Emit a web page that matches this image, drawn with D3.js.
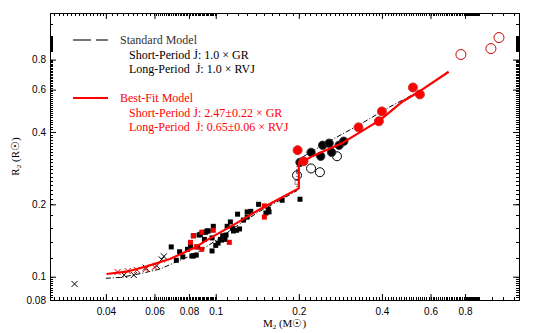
<!DOCTYPE html>
<html>
<head>
<meta charset="utf-8">
<title>Donor mass-radius relation</title>
<script src="https://cdn.jsdelivr.net/npm/d3@7/dist/d3.min.js"></script>
<style>
  body { margin: 0; background: #fff; }
  .tick-label { font-family: "Liberation Sans", Arial, sans-serif; font-size: 10px; fill: #000; }
  .legend { font-family: "Liberation Serif", "DejaVu Serif", serif; font-size: 12px; }
  .axis-title { font-family: "Liberation Serif", "DejaVu Serif", serif; font-size: 11px; }
</style>
</head>
<body>
<script>
// data: [M2 (Msun), R2 (Rsun)]
var blackSquares = [[0.069,0.133],[0.074,0.127],[0.072,0.117],[0.076,0.121],[0.081,0.134],[0.083,0.148],
  [0.087,0.149],[0.090,0.153],[0.092,0.153],[0.094,0.155],[0.083,0.122],[0.085,0.123],[0.086,0.133],
  [0.097,0.128],[0.102,0.138],[0.105,0.142],[0.106,0.148],[0.110,0.162],[0.113,0.169],[0.115,0.159],
  [0.119,0.156],[0.122,0.158],[0.126,0.172],[0.120,0.182],[0.130,0.186],[0.134,0.187],[0.143,0.200],
  [0.152,0.184],[0.155,0.191],[0.091,0.143],[0.097,0.145],[0.104,0.143],[0.108,0.143],[0.098,0.162],
  [0.093,0.155],[0.088,0.150],[0.082,0.122],[0.156,0.186],[0.130,0.177],[0.174,0.208],[0.202,0.210],
  [0.116,0.155],[0.109,0.149],[0.100,0.135],[0.079,0.130]];
var redSquares = [[0.083,0.148],[0.098,0.156],[0.112,0.139],[0.150,0.177],[0.150,0.197],[0.081,0.139],
  [0.089,0.153],[0.085,0.133],[0.089,0.130]];
var blackCrosses = [[0.0308,0.0933],[0.0466,0.1016],[0.0505,0.1016],[0.0558,0.109],[0.0611,0.111],
  [0.0637,0.118],[0.0649,0.1215]];
var redCrosses = [[0.0441,0.1046],[0.0480,0.1056],[0.0518,0.1066],[0.0558,0.1076],[0.0601,0.1097]];
var blackDots = [[0.202,0.299],[0.2215,0.329],[0.244,0.352],[0.240,0.317],[0.263,0.329],[0.2575,0.359],
  [0.280,0.352],[0.291,0.366]];
var redDots = [[0.198,0.336],[0.208,0.302],[0.329,0.418],[0.40,0.487],[0.39,0.443],[0.518,0.6125],[0.549,0.573]];
var openBlackCircles = [[0.275,0.317],[0.2215,0.282],[0.2385,0.272],[0.197,0.264]];
var openRedCircles = [[0.773,0.840],[0.993,0.889],[1.062,0.988]];
var openSquares = [[0.197,0.247]];

// model tracks
var standardModel = [[0.04,0.0985],[0.0456,0.0994],[0.0546,0.1036],[0.0628,0.1076],[0.0722,0.1154],
  [0.0806,0.1219],[0.0876,0.1278],[0.0993,0.1406],[0.119,0.1623],[0.1446,0.1874],[0.1708,0.208],
  [0.197,0.228],[0.197,0.305],[0.2018,0.310],[0.2522,0.361],[0.3329,0.430],[0.4277,0.509],[0.536,0.584]];
var bestFitModel = [[0.0402,0.1026],[0.0475,0.1049],[0.0562,0.1104],[0.0682,0.1184],[0.0829,0.1312],
  [0.0979,0.1471],[0.119,0.167],[0.1446,0.1909],[0.1708,0.2115],[0.2,0.233],[0.2,0.299],[0.208,0.302],
  [0.2249,0.318],[0.2889,0.361],[0.3934,0.448],[0.477,0.537],[0.549,0.591],[0.698,0.712]];

// tick labels
var xTickValues = [0.04, 0.06, 0.08, 0.1, 0.2, 0.4, 0.6, 0.8];
var yTickValues = [0.08, 0.1, 0.2, 0.4, 0.6, 0.8];

var margin = {top: 13, right: 14, bottom: 33, left: 50};
var width = 533 - margin.left - margin.right;
var height = 333 - margin.top - margin.bottom;

var x = d3.scaleLog().domain([0.0251, 1.255]).range([0, width]);
var y = d3.scaleLog().domain([0.08, 1.25]).range([height, 0]);

var svg = d3.select("body").append("svg")
    .attr("width", 533)
    .attr("height", 333);
svg.append("rect").attr("width", 533).attr("height", 333).attr("fill", "#fff");

var g = svg.append("g")
    .attr("transform", "translate(" + margin.left + "," + margin.top + ")");

// minor tick positions in the IDL style (dense in some spans)
function steps(a, b, s) {
  var out = [];
  for (var v = a; v <= b + 1e-9; v += s) out.push(+v.toFixed(4));
  return out;
}
var xMinor = [].concat(steps(0.026, 0.04, 0.001), steps(0.042, 0.06, 0.002), steps(0.061, 0.1, 0.001),
  steps(0.11, 0.2, 0.01), steps(0.21, 0.4, 0.01), steps(0.41, 0.8, 0.01), steps(0.805, 0.9, 0.005), [1.0, 1.1, 1.2]);
var yMinor = [].concat(steps(0.082, 0.1, 0.002), steps(0.12, 0.2, 0.02), steps(0.21, 0.4, 0.01),
  steps(0.41, 0.8, 0.01), steps(0.87, 1.0, 0.005), [1.12]);

// axes: bottom and left with labels, top and right mirrored
var xAxisBottom = d3.axisBottom(x).tickValues(xTickValues).tickSize(-6).tickFormat(d3.format("~g"));
var xAxisTop = d3.axisTop(x).tickValues(xTickValues).tickSize(-6).tickFormat("");
var yAxisLeft = d3.axisLeft(y).tickValues(yTickValues).tickSize(-6).tickFormat(d3.format("~g"));
var yAxisRight = d3.axisRight(y).tickValues(yTickValues).tickSize(-6).tickFormat("");

function styleAxis(sel) {
  sel.select(".domain").attr("stroke", "#000");
  sel.selectAll(".tick line").attr("stroke", "#000");
  sel.selectAll(".tick text").attr("class", "tick-label").attr("font-family", null).attr("font-size", null);
}

g.append("g").attr("transform", "translate(0," + height + ")").call(xAxisBottom)
  .call(styleAxis).call(function(s) { s.selectAll(".tick text").attr("y", 8); });
g.append("g").call(xAxisTop).call(styleAxis);
g.append("g").call(yAxisLeft).call(styleAxis)
  .call(function(s) { s.selectAll(".tick text").attr("x", -4); });
g.append("g").attr("transform", "translate(" + width + ",0)").call(yAxisRight).call(styleAxis);

var minor = g.append("g").attr("stroke", "#000").attr("stroke-width", 1);
minor.selectAll(".xb").data(xMinor).enter().append("line")
  .attr("x1", function(d) { return Math.round(x(d)) + 0.5; })
  .attr("x2", function(d) { return Math.round(x(d)) + 0.5; })
  .attr("y1", height).attr("y2", height - 3);
minor.selectAll(".xt").data(xMinor).enter().append("line")
  .attr("x1", function(d) { return Math.round(x(d)) + 0.5; })
  .attr("x2", function(d) { return Math.round(x(d)) + 0.5; })
  .attr("y1", 0).attr("y2", 3);
minor.selectAll(".yl").data(yMinor).enter().append("line")
  .attr("y1", function(d) { return Math.round(y(d)) + 0.5; })
  .attr("y2", function(d) { return Math.round(y(d)) + 0.5; })
  .attr("x1", 0).attr("x2", 3);
minor.selectAll(".yr").data(yMinor).enter().append("line")
  .attr("y1", function(d) { return Math.round(y(d)) + 0.5; })
  .attr("y2", function(d) { return Math.round(y(d)) + 0.5; })
  .attr("x1", width).attr("x2", width - 3);

// model lines
var line = d3.line().x(function(d) { return x(d[0]); }).y(function(d) { return y(d[1]); });

g.append("path").datum(standardModel)
  .attr("d", line).attr("fill", "none")
  .attr("stroke", "#000").attr("stroke-width", 1)
  .attr("stroke-dasharray", "5,2,1,2");

// points
function squares(data, fill, stroke, size) {
  g.append("g").selectAll("rect").data(data).enter().append("rect")
    .attr("x", function(d) { return x(d[0]) - size / 2; })
    .attr("y", function(d) { return y(d[1]) - size / 2; })
    .attr("width", size).attr("height", size)
    .attr("fill", fill).attr("stroke", stroke);
}
function crosses(data, color) {
  g.append("g").selectAll("path").data(data).enter().append("path")
    .attr("d", function(d) {
      var cx = x(d[0]), cy = y(d[1]), r = 3;
      return "M" + (cx - r) + "," + (cy - r) + "L" + (cx + r) + "," + (cy + r) +
             "M" + (cx - r) + "," + (cy + r) + "L" + (cx + r) + "," + (cy - r);
    })
    .attr("stroke", color).attr("stroke-width", 1).attr("fill", "none");
}
function circles(data, fill, stroke, r) {
  g.append("g").selectAll("circle").data(data).enter().append("circle")
    .attr("cx", function(d) { return x(d[0]); })
    .attr("cy", function(d) { return y(d[1]); })
    .attr("r", r)
    .attr("fill", fill).attr("stroke", stroke).attr("stroke-width", 1);
}

squares(blackSquares, "#000", "none", 5);
squares(redSquares, "#e00", "none", 5);
squares(openSquares, "#fff", "#888", 4);
crosses(blackCrosses, "#000");
crosses(redCrosses, "#e00");
circles(openBlackCircles, "none", "#000", 4.5);
circles(blackDots, "#000", "#333", 4.2);
circles(redDots, "#f00", "#c33", 4.5);
circles(openRedCircles, "none", "#c00", 5);

g.append("path").datum(bestFitModel)
  .attr("d", line).attr("fill", "none")
  .attr("stroke", "#f00").attr("stroke-width", 2.2)
  .attr("stroke-linejoin", "round");

// legend
var legend = svg.append("g").attr("class", "legend");
legend.append("line").attr("x1", 73).attr("x2", 108).attr("y1", 40).attr("y2", 40)
  .attr("stroke", "#777").attr("stroke-width", 2).attr("stroke-dasharray", "18,5");
legend.append("text").attr("x", 120).attr("y", 44).attr("fill", "#333").text("Standard Model");
legend.append("text").attr("x", 129).attr("y", 59).attr("fill", "#000").text("Short-Period J\u0307: 1.0 \u00d7 GR");
legend.append("text").attr("x", 129).attr("y", 73).attr("fill", "#000").text("Long-Period\u00a0\u00a0J\u0307: 1.0 \u00d7 RVJ");

legend.append("line").attr("x1", 73).attr("x2", 108).attr("y1", 98).attr("y2", 98)
  .attr("stroke", "#f00").attr("stroke-width", 2.2);
legend.append("text").attr("x", 120).attr("y", 102).attr("fill", "#f00").text("Best-Fit Model");
legend.append("text").attr("x", 129).attr("y", 117).attr("fill", "#f00").text("Short-Period J\u0307: 2.47\u00b10.22 \u00d7 GR");
legend.append("text").attr("x", 129).attr("y", 131).attr("fill", "#f00").text("Long-Period\u00a0\u00a0J\u0307: 0.65\u00b10.06 \u00d7 RVJ");

// axis titles
var xt = svg.append("text").attr("class", "axis-title")
  .attr("x", margin.left + width / 2).attr("y", 327).attr("text-anchor", "middle");
xt.append("tspan").text("M");
xt.append("tspan").attr("font-size", "7px").attr("dy", 2).text("2");
xt.append("tspan").attr("dy", -2).text(" (M\u2609)");

var yt = svg.append("text").attr("class", "axis-title")
  .attr("transform", "translate(19," + (margin.top + height / 2) + ") rotate(-90)")
  .attr("text-anchor", "middle");
yt.append("tspan").text("R");
yt.append("tspan").attr("font-size", "7px").attr("dy", 2).text("2");
yt.append("tspan").attr("dy", -2).text(" (R\u2609)");
</script>
</body>
</html>
